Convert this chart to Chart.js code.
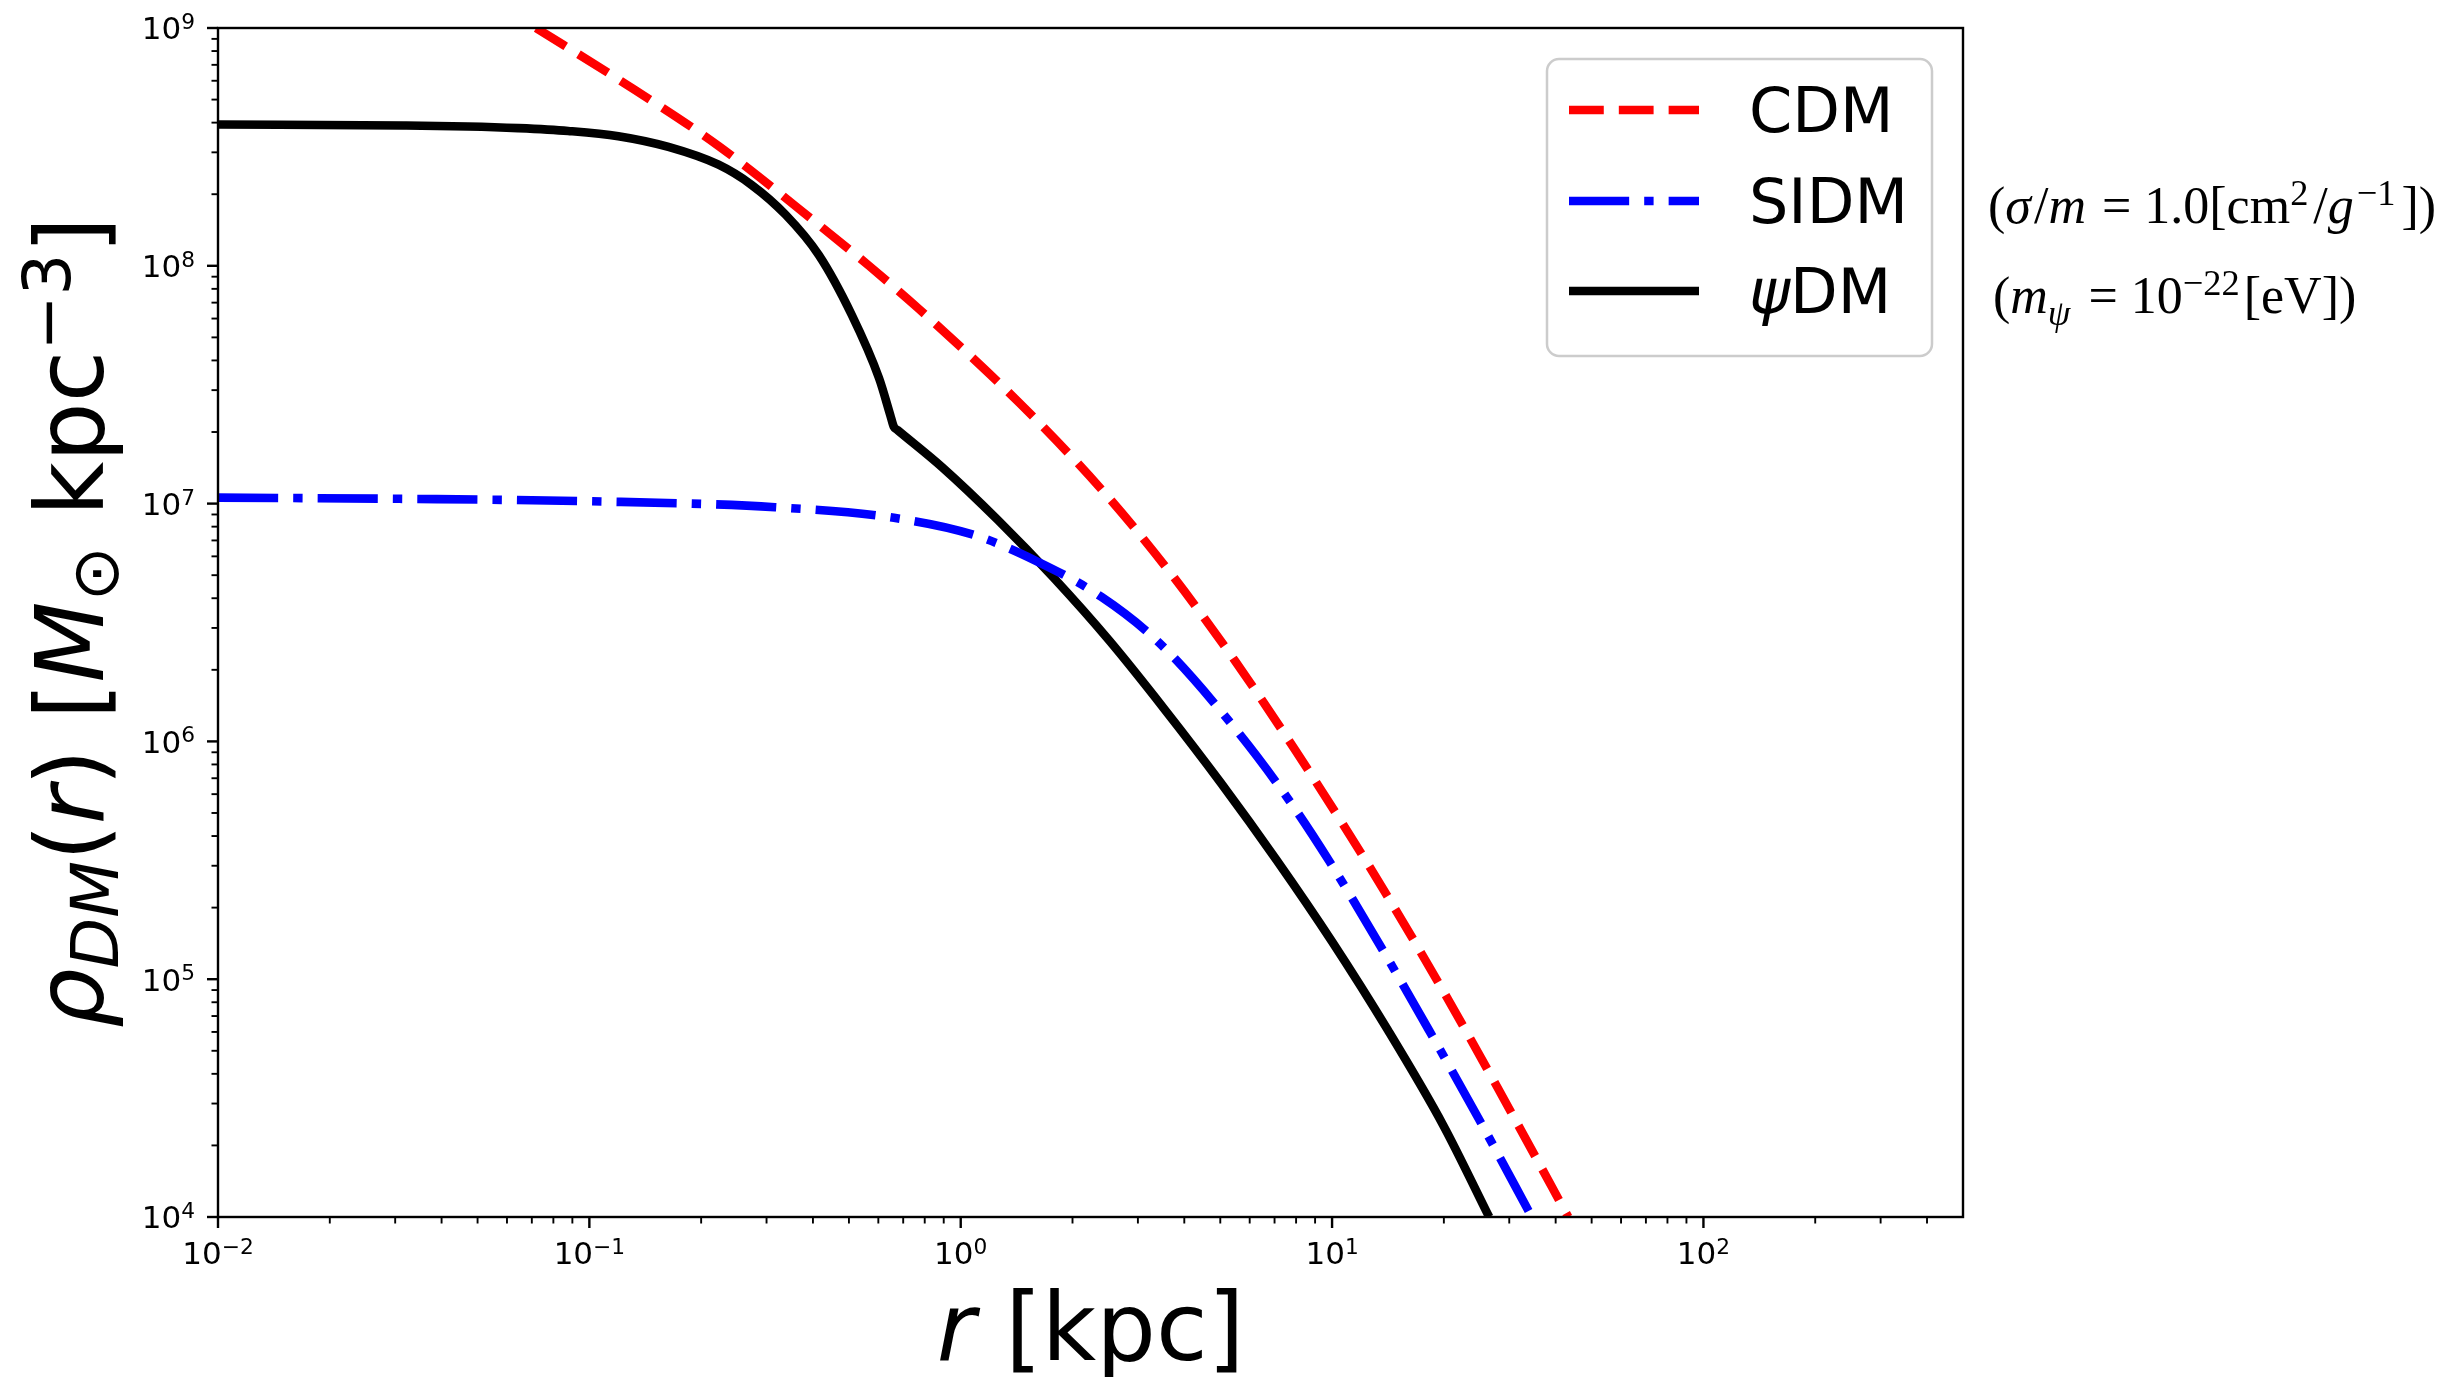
<!DOCTYPE html>
<html>
<head>
<meta charset="utf-8">
<script src="https://cdn.jsdelivr.net/npm/chart.js@4.4.1/dist/chart.umd.min.js"></script>
<style>
  html, body { margin: 0; padding: 0; background: #fff; }
</style>
</head>
<body>
<canvas id="chart" width="2447" height="1377"></canvas>
<script>
// r [kpc] and rho [M_sun kpc^-3]
const cdmR = [0.0719, 0.1197, 0.2228, 0.415, 0.5662, 0.7727, 1.435, 2.393, 3.622, 5.47, 7.943, 12.53, 17.14, 23.39, 31.92, 43.25];
const cdmRho = [1.0e9, 6.08e8, 3.19e8, 1.486e8, 1.0e8, 6.577e7, 2.661e7, 1.148e7, 5.248e6, 2.188e6, 9.23e5, 3.02e5, 1.337e5, 5.74e4, 2.388e4, 1.0e4];

const sidmR = [0.01, 0.0316, 0.1, 0.316, 0.661, 1.086, 1.578, 2.393, 3.43, 5.47, 7.60, 9.795, 13.37, 18.24, 24.89, 34.51];
const sidmRho = [1.06e7, 1.047e7, 1.023e7, 9.66e6, 8.71e6, 7.38e6, 5.79e6, 4.05e6, 2.59e6, 1.137e6, 5.754e5, 3.162e5, 1.413e5, 6.1e4, 2.57e4, 1.0e4];

const psiR = [0.01, 0.0316, 0.0471, 0.0643, 0.0877, 0.1197, 0.1633, 0.2228, 0.2735, 0.338, 0.415, 0.509, 0.6026, 0.6457, 0.6607, 0.6761,
    0.8913, 1.259, 1.778, 2.512, 3.548, 5.012, 7.079, 10.0, 14.13, 19.95, 26.49];
const psiRho = [3.93e8, 3.89e8, 3.855e8, 3.793e8, 3.69e8, 3.508e8, 3.162e8, 2.661e8, 2.188e8, 1.637e8, 1.109e8, 6.21e7, 3.37e7, 2.366e7, 2.10e7, 2.037e7,
    1.422e7, 8.53e6, 4.88e6, 2.655e6, 1.358e6, 6.71e5, 3.18e5, 1.439e5, 6.11e4, 2.421e4, 1.0e4];

const seriesLabels = ["CDM", "SIDM", "ψDM"];

const xTickValues = [0.01, 0.1, 1, 10, 100];
const xTickExps = ["−2", "−1", "0", "1", "2"];
const yTickValues = [1e4, 1e5, 1e6, 1e7, 1e8, 1e9];
const yTickExps = ["4", "5", "6", "7", "8", "9"];
const minorMantissas = [2, 3, 4, 5, 6, 7, 8, 9];

const X_MIN = 0.01, X_MAX = 500;
const Y_MIN = 1e4, Y_MAX = 1e9;

const LW = 8.6;
const DASH = 9.4;
const SANS = '"DejaVu Sans", "Liberation Sans", sans-serif';
const SERIF = '"Liberation Serif", "DejaVu Serif", serif';

function toPoints(xs, ys) {
    return xs.map((v, i) => ({ x: v, y: ys[i] }));
}

function fontOf(p) {
    return `${p.italic ? "italic " : ""}${p.size}px ${p.family || SANS}`;
}

// draw a row of text pieces (for super/subscripts)
function drawRuns(ctx, parts, x, y, align) {
    const widths = parts.map((p) => {
        ctx.font = fontOf(p);
        return ctx.measureText(p.t).width + (p.gap || 0);
    });
    const total = widths.reduce((a, b) => a + b, 0);
    let cx = align === "center" ? x - total / 2 : align === "right" ? x - total : x;
    parts.forEach((p, i) => {
        ctx.font = fontOf(p);
        ctx.fillText(p.t, cx, y + (p.dy || 0));
        cx += widths[i];
    });
    return total;
}

function powerParts(exp, size) {
    return [
        { t: "10", size },
        { t: exp, size: size * 0.7, dy: -size * 0.33 },
    ];
}

const TICK_FONT = 31;

const mplAxes = {
    id: "mplAxes",
    afterDraw(chart) {
        const { ctx, chartArea: a, scales } = chart;
        const xs = scales.x, ys = scales.y;
        ctx.save();
        ctx.fillStyle = "#000";
        ctx.strokeStyle = "#000";
        ctx.textBaseline = "alphabetic";

        // spines
        ctx.lineWidth = 2.4;
        ctx.strokeRect(a.left, a.top, a.right - a.left, a.bottom - a.top);

        const tick = (x1, y1, x2, y2, w) => {
            ctx.lineWidth = w;
            ctx.beginPath();
            ctx.moveTo(x1, y1);
            ctx.lineTo(x2, y2);
            ctx.stroke();
        };

        // x ticks
        xTickValues.forEach((v) => {
            const px = xs.getPixelForValue(v);
            tick(px, a.bottom, px, a.bottom + 11, 2.4);
            minorMantissas.forEach((m) => {
                const mv = v * m;
                if (mv < X_MAX) {
                    const mp = xs.getPixelForValue(mv);
                    tick(mp, a.bottom, mp, a.bottom + 6.5, 1.9);
                }
            });
        });
        // y ticks
        yTickValues.forEach((v) => {
            const py = ys.getPixelForValue(v);
            tick(a.left, py, a.left - 11, py, 2.4);
            if (v < Y_MAX) {
                minorMantissas.forEach((m) => {
                    const mp = ys.getPixelForValue(v * m);
                    tick(a.left, mp, a.left - 6.5, mp, 1.9);
                });
            }
        });

        // tick labels
        xTickValues.forEach((v, i) => {
            const px = xs.getPixelForValue(v);
            drawRuns(ctx, powerParts(xTickExps[i], TICK_FONT), px, a.bottom + 47, "center");
        });
        yTickValues.forEach((v, i) => {
            const py = ys.getPixelForValue(v);
            drawRuns(ctx, powerParts(yTickExps[i], TICK_FONT), a.left - 23, py + 11.3, "right");
        });

        // axis titles
        const big = 94;
        drawRuns(ctx, [
            { t: "r", size: big, italic: true },
            { t: " [kpc]", size: big },
        ], (a.left + a.right) / 2, 1360, "center");

        ctx.save();
        ctx.translate(103, (a.top + a.bottom) / 2);
        ctx.rotate(-Math.PI / 2);
        drawRuns(ctx, [
            { t: "ρ", size: big, italic: true },
            { t: "DM", size: big * 0.7, italic: true, dy: 15 },
            { t: "(", size: big },
            { t: "r", size: big, italic: true },
            { t: ")", size: big },
            { t: " [", size: big },
            { t: "M", size: big, italic: true },
            { t: "⊙", size: big * 0.7, dy: 15 },
            { t: " kpc", size: big },
            { t: "−3", size: big * 0.7, dy: -33 },
            { t: "]", size: big },
        ], 0, 0, "center");
        ctx.restore();

        // legend
        const lx = 1547, ly = 59, lw = 385, lh = 297;
        ctx.beginPath();
        ctx.roundRect(lx, ly, lw, lh, 12);
        ctx.fillStyle = "rgba(255,255,255,0.8)";
        ctx.fill();
        ctx.strokeStyle = "#cccccc";
        ctx.lineWidth = 2.5;
        ctx.stroke();

        const rowBase = [132, 223, 313];
        chart.data.datasets.forEach((ds, i) => {
            const yMid = rowBase[i] - 22;
            ctx.save();
            ctx.strokeStyle = ds.borderColor;
            ctx.lineWidth = ds.borderWidth;
            ctx.setLineDash(ds.borderDash || []);
            ctx.lineCap = "butt";
            ctx.beginPath();
            ctx.moveTo(1569, yMid);
            ctx.lineTo(1699, yMid);
            ctx.stroke();
            ctx.restore();
            ctx.fillStyle = "#000";
            const parts = ds.label === "ψDM"
                ? [{ t: "ψ", size: 62, italic: true }, { t: "DM", size: 62 }]
                : [{ t: ds.label, size: 62 }];
            drawRuns(ctx, parts, 1749, rowBase[i], "left");
        });

        // side notes
        ctx.fillStyle = "#000";
        const s = 52;
        drawRuns(ctx, [
            { t: "(", size: s, family: SERIF },
            { t: "σ", size: s, family: SERIF, italic: true, gap: 3 },
            { t: "/", size: s, family: SERIF },
            { t: "m", size: s, family: SERIF, italic: true, gap: 3 },
            { t: " = 1.0[cm", size: s, family: SERIF },
            { t: "2", size: s * 0.7, family: SERIF, dy: -18, gap: 5 },
            { t: "/", size: s, family: SERIF },
            { t: "g", size: s, family: SERIF, italic: true, gap: 3 },
            { t: "−1", size: s * 0.7, family: SERIF, dy: -18, gap: 6 },
            { t: "])", size: s, family: SERIF },
        ], 1988, 223, "left");
        drawRuns(ctx, [
            { t: "(", size: s, family: SERIF },
            { t: "m", size: s, family: SERIF, italic: true },
            { t: "ψ", size: s * 0.7, family: SERIF, italic: true, dy: 12, gap: 5 },
            { t: " = 10", size: s, family: SERIF },
            { t: "−22", size: s * 0.7, family: SERIF, dy: -18, gap: 4 },
            { t: "[eV])", size: s, family: SERIF },
        ], 1993, 313, "left");

        ctx.restore();
    },
};

const ctx = document.getElementById("chart").getContext("2d");

new Chart(ctx, {
    type: "line",
    data: {
        datasets: [
            {
                label: seriesLabels[0],
                data: toPoints(cdmR, cdmRho),
                borderColor: "#ff0000",
                borderWidth: LW,
                borderDash: [3.7 * DASH, 1.6 * DASH],
            },
            {
                label: seriesLabels[1],
                data: toPoints(sidmR, sidmRho),
                borderColor: "#0000ff",
                borderWidth: LW,
                borderDash: [6.4 * DASH, 1.6 * DASH, 1.0 * DASH, 1.6 * DASH],
            },
            {
                label: seriesLabels[2],
                data: toPoints(psiR, psiRho),
                borderColor: "#000000",
                borderWidth: LW,
            },
        ],
    },
    options: {
        responsive: false,
        devicePixelRatio: 1,
        animation: false,
        layout: { padding: { left: 0, right: 484, top: 28, bottom: 0 } },
        elements: {
            point: { radius: 0 },
            line: { cubicInterpolationMode: "monotone", fill: false, borderCapStyle: "butt" },
        },
        datasets: { line: { clip: 0 } },
        plugins: {
            legend: { display: false },
            tooltip: { enabled: false },
        },
        scales: {
            x: {
                type: "logarithmic",
                min: X_MIN,
                max: X_MAX,
                ticks: { display: false },
                grid: { display: false },
                border: { display: false },
                afterFit: (s) => { s.height = 160; },
            },
            y: {
                type: "logarithmic",
                min: Y_MIN,
                max: Y_MAX,
                ticks: { display: false },
                grid: { display: false },
                border: { display: false },
                afterFit: (s) => { s.width = 218; },
            },
        },
    },
    plugins: [mplAxes],
});
</script>
</body>
</html>
